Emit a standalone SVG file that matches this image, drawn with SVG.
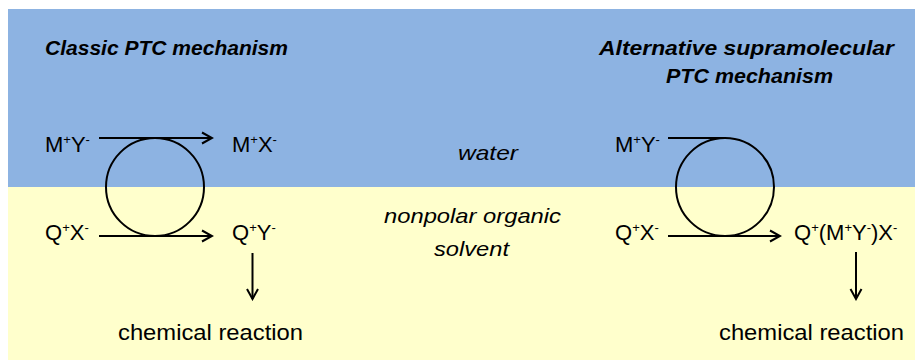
<svg xmlns="http://www.w3.org/2000/svg" width="915" height="360" viewBox="0 0 915 360">
  <defs>
    <style>
      .lbl { font-family: "Liberation Sans", Arial, sans-serif; font-size: 22px; fill: #000; }
      .sup { font-size: 13px; }
      .ttl { font-family: "Liberation Sans", Arial, sans-serif; font-size: 21px; font-weight: bold; font-style: italic; fill: #000; }
      .it { font-family: "Liberation Sans", Arial, sans-serif; font-size: 21px; font-style: italic; fill: #000; }
      .ln { fill: none; stroke: #000; stroke-width: 2; }
    </style>
    <marker id="ah" markerUnits="userSpaceOnUse" markerWidth="14" markerHeight="14" viewBox="0 0 14 14" refX="12" refY="7" orient="auto">
      <path d="M2,1.5 L12,7 L2,12.5" fill="none" stroke="#000" stroke-width="2"/>
    </marker>
  </defs>

  <rect x="0" y="0" width="915" height="360" fill="#ffffff"/>
  <g id="phase-water">
    <rect x="8" y="9" width="907" height="178" fill="#8db3e2"/>
    <text class="it" x="458" y="160" textLength="60" lengthAdjust="spacingAndGlyphs">water</text>
  </g>
  <g id="phase-organic">
    <rect x="8" y="187" width="907" height="173" fill="#ffffcc"/>
    <text class="it" x="472.5" y="223" text-anchor="middle" textLength="177" lengthAdjust="spacingAndGlyphs">nonpolar organic</text>
    <text class="it" x="471.5" y="256" text-anchor="middle" textLength="75" lengthAdjust="spacingAndGlyphs">solvent</text>
  </g>

  <g id="title-classic">
    <text class="ttl" x="45" y="55" textLength="243" lengthAdjust="spacingAndGlyphs">Classic PTC mechanism</text>
  </g>
  <g id="title-alternative">
    <text class="ttl" x="746.5" y="55" text-anchor="middle" textLength="295" lengthAdjust="spacingAndGlyphs">Alternative supramolecular</text>
    <text class="ttl" x="749.5" y="83" text-anchor="middle" textLength="167" lengthAdjust="spacingAndGlyphs">PTC mechanism</text>
  </g>

  <!-- Left (classic) nodes -->
  <g id="L-MY">
    <text class="lbl" x="45" y="152">M<tspan class="sup" dy="-8">+</tspan><tspan dy="8">Y</tspan><tspan class="sup" dy="-8">-</tspan></text>
  </g>
  <g id="L-QX">
    <text class="lbl" x="45" y="240">Q<tspan class="sup" dy="-8">+</tspan><tspan dy="8">X</tspan><tspan class="sup" dy="-8">-</tspan></text>
  </g>
  <g id="L-MX">
    <text class="lbl" x="232" y="152">M<tspan class="sup" dy="-8">+</tspan><tspan dy="8">X</tspan><tspan class="sup" dy="-8">-</tspan></text>
  </g>
  <g id="L-QY">
    <text class="lbl" x="232" y="240">Q<tspan class="sup" dy="-8">+</tspan><tspan dy="8">Y</tspan><tspan class="sup" dy="-8">-</tspan></text>
  </g>
  <g id="L-reaction">
    <text class="lbl" x="118" y="340" textLength="185" lengthAdjust="spacingAndGlyphs">chemical reaction</text>
  </g>

  <!-- Right (alternative) nodes -->
  <g id="R-MY">
    <text class="lbl" x="615" y="152">M<tspan class="sup" dy="-8">+</tspan><tspan dy="8">Y</tspan><tspan class="sup" dy="-8">-</tspan></text>
  </g>
  <g id="R-QX">
    <text class="lbl" x="615" y="240">Q<tspan class="sup" dy="-8">+</tspan><tspan dy="8">X</tspan><tspan class="sup" dy="-8">-</tspan></text>
  </g>
  <g id="R-QMYX">
    <text class="lbl" x="794" y="240">Q<tspan class="sup" dy="-8">+</tspan><tspan dy="8">(M</tspan><tspan class="sup" dy="-8">+</tspan><tspan dy="8">Y</tspan><tspan class="sup" dy="-8">-</tspan><tspan dy="8">)X</tspan><tspan class="sup" dy="-8">-</tspan></text>
  </g>
  <g id="R-reaction">
    <text class="lbl" x="719" y="340" textLength="185" lengthAdjust="spacingAndGlyphs">chemical reaction</text>
  </g>

  <g id="connectors">
    <!-- left cycle -->
    <circle class="ln" cx="155" cy="187" r="49"/>
    <line class="ln" x1="99" y1="138" x2="212" y2="138" marker-end="url(#ah)"/>
    <line class="ln" x1="99" y1="236" x2="212" y2="236" marker-end="url(#ah)"/>
    <line class="ln" x1="252.5" y1="253" x2="252.5" y2="299" marker-end="url(#ah)"/>
    <!-- right cycle -->
    <circle class="ln" cx="725" cy="187" r="49"/>
    <line class="ln" x1="668" y1="138" x2="725" y2="138"/>
    <line class="ln" x1="668" y1="236" x2="780" y2="236" marker-end="url(#ah)"/>
    <line class="ln" x1="856" y1="252" x2="856" y2="299" marker-end="url(#ah)"/>
  </g>
</svg>
